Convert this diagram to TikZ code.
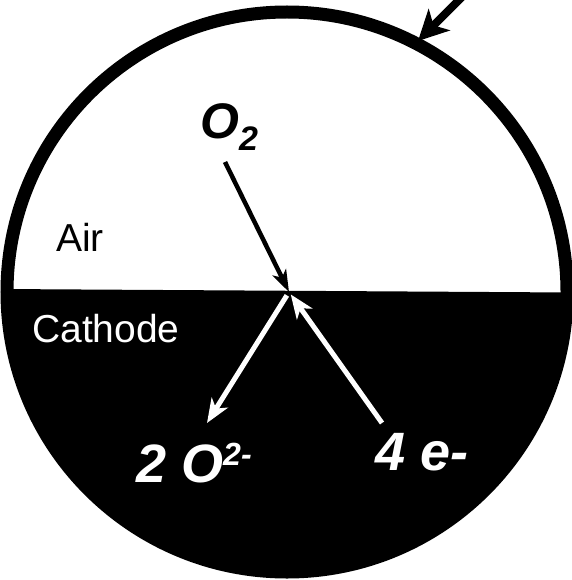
\documentclass[tikz,border=0pt]{standalone}
\usepackage{fontspec}
\setmainfont{Liberation Sans}
\usetikzlibrary{arrows.meta}

\begin{document}
\begin{tikzpicture}[x=1pt, y=-1pt,
    region/.style={inner sep=0pt, anchor=base west, font=\fontsize{39}{39}\selectfont},
    species/.style={inner sep=0pt, anchor=base west, font=\fontsize{54}{54}\selectfont\bfseries\itshape},
    flow black/.style={-{Stealth[length=22pt, width=15pt, inset=6pt]}, line width=4.5pt},
    flow white/.style={-{Stealth[length=24pt, width=19pt, inset=7pt]}, line width=5pt, white},
    feed/.style={-{Stealth[length=30pt, width=30pt, inset=8pt]}, line width=8pt}
  ]
    \useasboundingbox (0,0) rectangle (571,580);
    % cathode half of the cell
    \begin{scope}
      \clip (287,292) circle[radius=280pt];
      \fill (0,289) -- (571,292.5) -- (571,580) -- (0,580) -- cycle;
    \end{scope}
    \draw[line width=13pt] (287,292) circle[radius=280pt];

    \coordinate (mid) at (289,292);
    \coordinate (o2 tail) at (225,162);
    \coordinate (oxide tip) at (207,423);
    \coordinate (e tail) at (382,423);
    \coordinate (feed tail) at (463,-4);
    \coordinate (feed tip) at (418,41);

    \node[region] (air) at (56,251) {Air};
    \node[region, white] (cathode) at (32,342) {Cathode};
    \node[species, font=\fontsize{50}{50}\selectfont\bfseries\itshape] (o2) at (200,139)
      {O\raisebox{-12pt}{\fontsize{34}{34}\selectfont 2}};
    \node[species, white] (oxide) at (136,482) {2 O\raisebox{17pt}{\fontsize{32}{32}\selectfont 2-}};
    \node[species, white] (electrons) at (375,470) {4 e-};

    \draw[feed] (feed tail) -- (feed tip);
    \draw[flow black] (o2 tail) -- (mid);
    \draw[flow white, shorten <=4pt] (mid) -- (oxide tip);
    \draw[flow white, shorten >=3pt] (e tail) -- (mid);
\end{tikzpicture}
\end{document}
